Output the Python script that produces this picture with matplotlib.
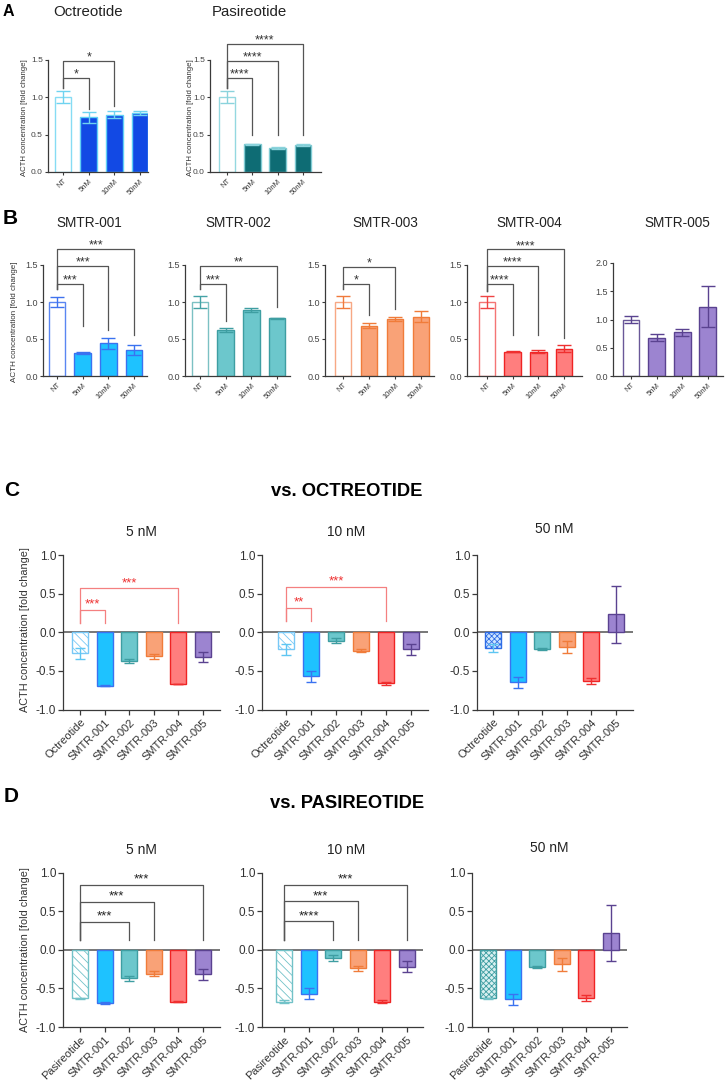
import matplotlib
matplotlib.use('Agg')
import matplotlib.pyplot as plt

plt.rcParams['font.family'] = ['Liberation Sans', 'DejaVu Sans']
plt.rcParams['hatch.linewidth'] = 0.6

W, H = 727, 1086

# ---------------- data ----------------
A_labels = ['NT', '5nM', '10nM', '50nM']
A_oct_mean = [1.00, 0.73, 0.77, 0.79]
A_oct_err = [0.08, 0.07, 0.05, 0.03]
A_pas_mean = [1.00, 0.37, 0.32, 0.36]
A_pas_err = [0.08, 0.01, 0.01, 0.01]

B_titles = ['SMTR-001', 'SMTR-002', 'SMTR-003', 'SMTR-004', 'SMTR-005']
B1_mean = [1.00, 0.31, 0.44, 0.35]
B1_err = [0.07, 0.01, 0.07, 0.07]
B2_mean = [1.00, 0.62, 0.89, 0.78]
B2_err = [0.08, 0.03, 0.03, 0.01]
B3_mean = [1.00, 0.68, 0.77, 0.80]
B3_err = [0.08, 0.03, 0.03, 0.075]
B4_mean = [1.00, 0.33, 0.33, 0.37]
B4_err = [0.08, 0.005, 0.025, 0.045]
B5_mean = [1.00, 0.68, 0.77, 1.23]
B5_err = [0.07, 0.06, 0.065, 0.365]

C_labels = ['Octreotide', 'SMTR-001', 'SMTR-002', 'SMTR-003', 'SMTR-004', 'SMTR-005']
D_labels = ['Pasireotide', 'SMTR-001', 'SMTR-002', 'SMTR-003', 'SMTR-004', 'SMTR-005']
dose_titles = ['5 nM', '10 nM', '50 nM']
C5_mean = [-0.27, -0.69, -0.37, -0.31, -0.67, -0.32]
C5_err = [0.07, 0.01, 0.03, 0.03, 0.005, 0.07]
C10_mean = [-0.22, -0.57, -0.11, -0.24, -0.66, -0.22]
C10_err = [0.07, 0.07, 0.03, 0.02, 0.02, 0.07]
C50_mean = [-0.20, -0.65, -0.22, -0.19, -0.63, 0.23]
C50_err = [0.05, 0.07, 0.01, 0.08, 0.04, 0.37]
D5_mean = [-0.63, -0.69, -0.37, -0.31, -0.67, -0.32]
D5_err = [0.01, 0.01, 0.03, 0.03, 0.005, 0.07]
D10_mean = [-0.67, -0.57, -0.11, -0.24, -0.67, -0.22]
D10_err = [0.02, 0.07, 0.04, 0.03, 0.02, 0.07]
D50_mean = [-0.63, -0.64, -0.22, -0.19, -0.62, 0.22]
D50_err = [0.01, 0.07, 0.01, 0.08, 0.04, 0.36]

# significance brackets: (i, j, height, label, left_end, right_end)
A_oct_sig = [(0, 1, 1.26, '*', 1.13, 0.84), (0, 2, 1.49, '*', 1.13, 0.88)]
A_pas_sig = [(0, 1, 1.26, '****', 1.13, 0.50), (0, 2, 1.49, '****', 1.13, 0.50),
             (0, 3, 1.72, '****', 1.13, 0.50)]
B1_sig = [(0, 1, 1.24, '***', 1.18, 0.68), (0, 2, 1.49, '***', 1.18, 0.62),
          (0, 3, 1.72, '***', 1.18, 0.55)]
B2_sig = [(0, 1, 1.24, '***', 1.18, 0.75), (0, 3, 1.49, '**', 1.18, 0.93)]
B3_sig = [(0, 1, 1.24, '*', 1.17, 0.82), (0, 2, 1.47, '*', 1.17, 0.90)]
B4_sig = [(0, 1, 1.25, '****', 1.15, 0.56), (0, 2, 1.49, '****', 1.15, 0.56),
          (0, 3, 1.71, '****', 1.15, 0.52)]
C5_sig = [(0, 1, 0.29, '***', 0.12, 0.12), (0, 4, 0.57, '***', 0.12, 0.12)]
C10_sig = [(0, 1, 0.32, '**', 0.14, 0.14), (0, 4, 0.59, '***', 0.14, 0.14)]
D5_sig = [(0, 2, 0.36, '***', 0.13, 0.13), (0, 3, 0.62, '***', 0.13, 0.13),
          (0, 5, 0.84, '***', 0.13, 0.13)]
D10_sig = [(0, 2, 0.37, '****', 0.13, 0.13), (0, 3, 0.63, '***', 0.13, 0.13),
           (0, 5, 0.84, '***', 0.13, 0.13)]

# ---------------- styles ----------------
# (fill, edge, errcolor, hatch) per bar
A_oct_style = [('white', '#86dcf4', '#6fd3f0', None)] + [('#1249e4', '#5fd0f5', '#6fd3f0', None)] * 3
A_pas_style = [('white', '#94d8e0', '#8ad3dc', None)] + [('#0e6c74', '#7fcbd3', '#8ad3dc', None)] * 3
B_styles = [
    [('white', '#5a86f2', '#3f72ee', None)] + [('#1ec2ff', '#3a72f0', '#3a72f0', None)] * 3,
    [('white', '#7cc1c3', '#45a3a6', None)] + [('#6cc7cc', '#3e9ea2', '#3e9ea2', None)] * 3,
    [('white', '#f7a884', '#f07a3c', None)] + [('#f9a277', '#f07c3a', '#f07c3a', None)] * 3,
    [('white', '#f47575', '#ef4444', None)] + [('#ff7e7e', '#ef2424', '#ef3030', None)] * 3,
    [('white', '#6a5898', '#5a4490', None)] + [('#9c84d0', '#5a4290', '#5a4290', None)] * 3,
]
smtr_style = [('#1ec2ff', '#3a72f0', '#3a72f0', None),
              ('#6cc7cc', '#3e9ea2', '#3e9ea2', None),
              ('#f9a277', '#f07c3a', '#f07c3a', None),
              ('#ff7e7e', '#ef2424', '#ef3030', None),
              ('#9c84d0', '#5a4290', '#5a4290', None)]
oct_hatched = ('white', '#78c8f6', '#5ec6f2', '\\\\\\\\')
oct_checker = ('#cfe6ff', '#2f6de6', '#5ec6f2', 'xxxxxx')
pas_hatched = ('white', '#72c2c8', '#72c2c8', '\\\\\\\\')
pas_checker = ('#d8f0f0', '#3f9ea2', '#72c2c8', 'xxxxxx')

AXC = '#3a3a3a'
TXT = '#222222'

fig = plt.figure(figsize=(W / 100, H / 100), dpi=100)


def fx(x):
    return x / W


def fy(y):
    return 1 - y / H


def make_ax(spine, first, sp, right, top, bottom):
    ax = fig.add_axes([spine / W, 1 - bottom / H, (right - spine) / W, (bottom - top) / H])
    ax.set_xlim((spine - first) / sp, (right - first) / sp)
    ax.patch.set_alpha(0)
    for s in ['top', 'right']:
        ax.spines[s].set_visible(False)
    for s in ['left', 'bottom']:
        ax.spines[s].set_color(AXC)
        ax.spines[s].set_linewidth(0.9)
    return ax


def draw_bars(ax, means, errs, styles, capsize, width=0.65):
    for i, (m, e, st) in enumerate(zip(means, errs, styles)):
        fill, edge, ecol, hatch = st
        ax.bar(i, m, width=width, color=fill, edgecolor=edge, linewidth=1.0,
               hatch=hatch, zorder=2)
        ax.errorbar(i, m, yerr=e, fmt='none', ecolor=ecol, elinewidth=1.0,
                    capsize=capsize, capthick=1.0, zorder=3)


def draw_sig(ax, sig, lcol, scol, fs, off):
    for i, j, y, lab, yl, yr in sig:
        ax.plot([i, i, j, j], [yl, y, y, yr], color=lcol, lw=0.9, clip_on=False, zorder=4)
        ax.annotate(lab, xy=((i + j) / 2, y), xytext=(0, off), textcoords='offset points',
                    ha='center', va='baseline', fontsize=fs, color=scol,
                    annotation_clip=False)


def style_small(ax, labels, ymax, tfs, xfs):
    ax.set_ylim(0, ymax)
    ticks = [k * 0.5 for k in range(int(round(ymax / 0.5)) + 1)]
    ax.set_yticks(ticks)
    ax.set_yticklabels(['%.1f' % t for t in ticks])
    ax.set_xticks(range(len(labels)))
    ax.set_xticklabels(labels, rotation=45, ha='right', rotation_mode='anchor')
    ax.tick_params(axis='y', labelsize=tfs, length=2.5, width=0.8, color=AXC,
                   labelcolor='#444444', pad=1.2)
    ax.tick_params(axis='x', labelsize=xfs, length=2.5, width=0.8, color=AXC,
                   labelcolor='#333333', pad=1.5)


def style_big(ax, labels):
    ax.set_ylim(-1, 1)
    ax.set_yticks([-1, -0.5, 0, 0.5, 1])
    ax.set_yticklabels(['-1.0', '-0.5', '0.0', '0.5', '1.0'])
    ax.set_xticks(range(len(labels)))
    ax.set_xticklabels(labels, rotation=45, ha='right', rotation_mode='anchor')
    ax.tick_params(axis='y', labelsize=8.5, length=3.5, width=0.9, color=AXC,
                   labelcolor='#333333', pad=1.5)
    ax.tick_params(axis='x', labelsize=8, length=3.5, width=0.9, color=AXC,
                   labelcolor='#333333', pad=2)
    ax.axhline(0, color='#777777', lw=1.4, zorder=1)


YLAB = 'ACTH concentration [fold change]'

# ---------------- Panel A ----------------
fig.text(fx(3), fy(12), 'A', fontsize=11.5, fontweight='bold', va='center', ha='left', color='black')
fig.text(fx(88), fy(12), 'Octreotide', fontsize=10.8, ha='center', va='center', color=TXT)
fig.text(fx(249), fy(12), 'Pasireotide', fontsize=10.8, ha='center', va='center', color=TXT)

axA1 = make_ax(48, 63, 25.7, 148, 60, 172)
draw_bars(axA1, A_oct_mean, A_oct_err, A_oct_style, 5)
style_small(axA1, A_labels, 1.5, 6, 5.5)
draw_sig(axA1, A_oct_sig, '#555555', '#333333', 9, 0.3)
fig.text(fx(25), fy(118), YLAB, rotation=90, fontsize=5.6, ha='center', va='center', color='#333333')

axA2 = make_ax(210, 227, 25.3, 321, 60, 172)
draw_bars(axA2, A_pas_mean, A_pas_err, A_pas_style, 5)
style_small(axA2, A_labels, 1.5, 6, 5.5)
draw_sig(axA2, A_pas_sig, '#555555', '#333333', 9, 0.3)
fig.text(fx(191), fy(118), YLAB, rotation=90, fontsize=5.6, ha='center', va='center', color='#333333')

# ---------------- Panel B ----------------
fig.text(fx(3), fy(219), 'B', fontsize=15, fontweight='bold', va='center', ha='left', color='black')
B_means = [B1_mean, B2_mean, B3_mean, B4_mean, B5_mean]
B_errs = [B1_err, B2_err, B3_err, B4_err, B5_err]
B_sigs = [B1_sig, B2_sig, B3_sig, B4_sig, []]
B_geom = [(43, 57, 25.7, 147), (185, 200, 25.7, 290), (325, 343, 26.0, 434),
          (467, 487, 25.7, 582), (613, 631, 25.6, 723)]
B_title_x = [89, 238, 385, 529, 677]
for k in range(5):
    sp, first, step, right = B_geom[k]
    ymax = 2.0 if k == 4 else 1.5
    top = 263 if k == 4 else 265
    ax = make_ax(sp, first, step, right, top, 376)
    draw_bars(ax, B_means[k], B_errs[k], B_styles[k], 5)
    style_small(ax, A_labels, ymax, 6.5, 5.5)
    draw_sig(ax, B_sigs[k], '#555555', '#333333', 9, 0.3)
    fig.text(fx(B_title_x[k]), fy(223), B_titles[k], fontsize=9.8, ha='center', va='center', color=TXT)
fig.text(fx(15), fy(322), YLAB, rotation=90, fontsize=5.8, ha='center', va='center', color='#333333')

# ---------------- Panel C ----------------
fig.text(fx(4), fy(491), 'C', fontsize=15, fontweight='bold', va='center', ha='left', color='black')
fig.text(fx(347), fy(492), 'vs. OCTREOTIDE', fontsize=13.2, fontweight='bold', ha='center', va='center', color='black')
C_means = [C5_mean, C10_mean, C50_mean]
C_errs = [C5_err, C10_err, C50_err]
C_sigs = [C5_sig, C10_sig, []]
C_geom = [(63, 80, 24.6, 220), (262, 286, 25.0, 428), (477, 493, 24.6, 633)]
C_title_x = [141, 346, 554]
C_title_y = [532, 532, 529]
for k in range(3):
    sp, first, step, right = C_geom[k]
    ax = make_ax(sp, first, step, right, 555, 709.5)
    first_style = oct_checker if k == 2 else oct_hatched
    draw_bars(ax, C_means[k], C_errs[k], [first_style] + smtr_style, 3.5)
    style_big(ax, C_labels)
    draw_sig(ax, C_sigs[k], '#f48080', '#ee3030', 9.5, 1.5)
    fig.text(fx(C_title_x[k]), fy(C_title_y[k]), dose_titles[k], fontsize=9.9, ha='center', va='center', color=TXT)
fig.text(fx(25), fy(630), YLAB, rotation=90, fontsize=7.8, ha='center', va='center', color='#333333')

# ---------------- Panel D ----------------
fig.text(fx(4), fy(797), 'D', fontsize=15, fontweight='bold', va='center', ha='left', color='black')
fig.text(fx(347), fy(804), 'vs. PASIREOTIDE', fontsize=13.2, fontweight='bold', ha='center', va='center', color='black')
D_means = [D5_mean, D10_mean, D50_mean]
D_errs = [D5_err, D10_err, D50_err]
D_sigs = [D5_sig, D10_sig, []]
D_geom = [(63, 80, 24.6, 220), (262, 284, 24.6, 423), (472, 488, 24.6, 627)]
D_title_x = [141, 346, 549]
D_title_y = [850, 850, 848]
for k in range(3):
    sp, first, step, right = D_geom[k]
    ax = make_ax(sp, first, step, right, 872.5, 1027)
    first_style = pas_checker if k == 2 else pas_hatched
    draw_bars(ax, D_means[k], D_errs[k], [first_style] + smtr_style, 3.5)
    style_big(ax, D_labels)
    draw_sig(ax, D_sigs[k], '#555555', '#222222', 9.5, 1.5)
    fig.text(fx(D_title_x[k]), fy(D_title_y[k]), dose_titles[k], fontsize=9.9, ha='center', va='center', color=TXT)
fig.text(fx(25), fy(950), YLAB, rotation=90, fontsize=7.8, ha='center', va='center', color='#333333')

fig.savefig('out.png', dpi=100, facecolor='white')
